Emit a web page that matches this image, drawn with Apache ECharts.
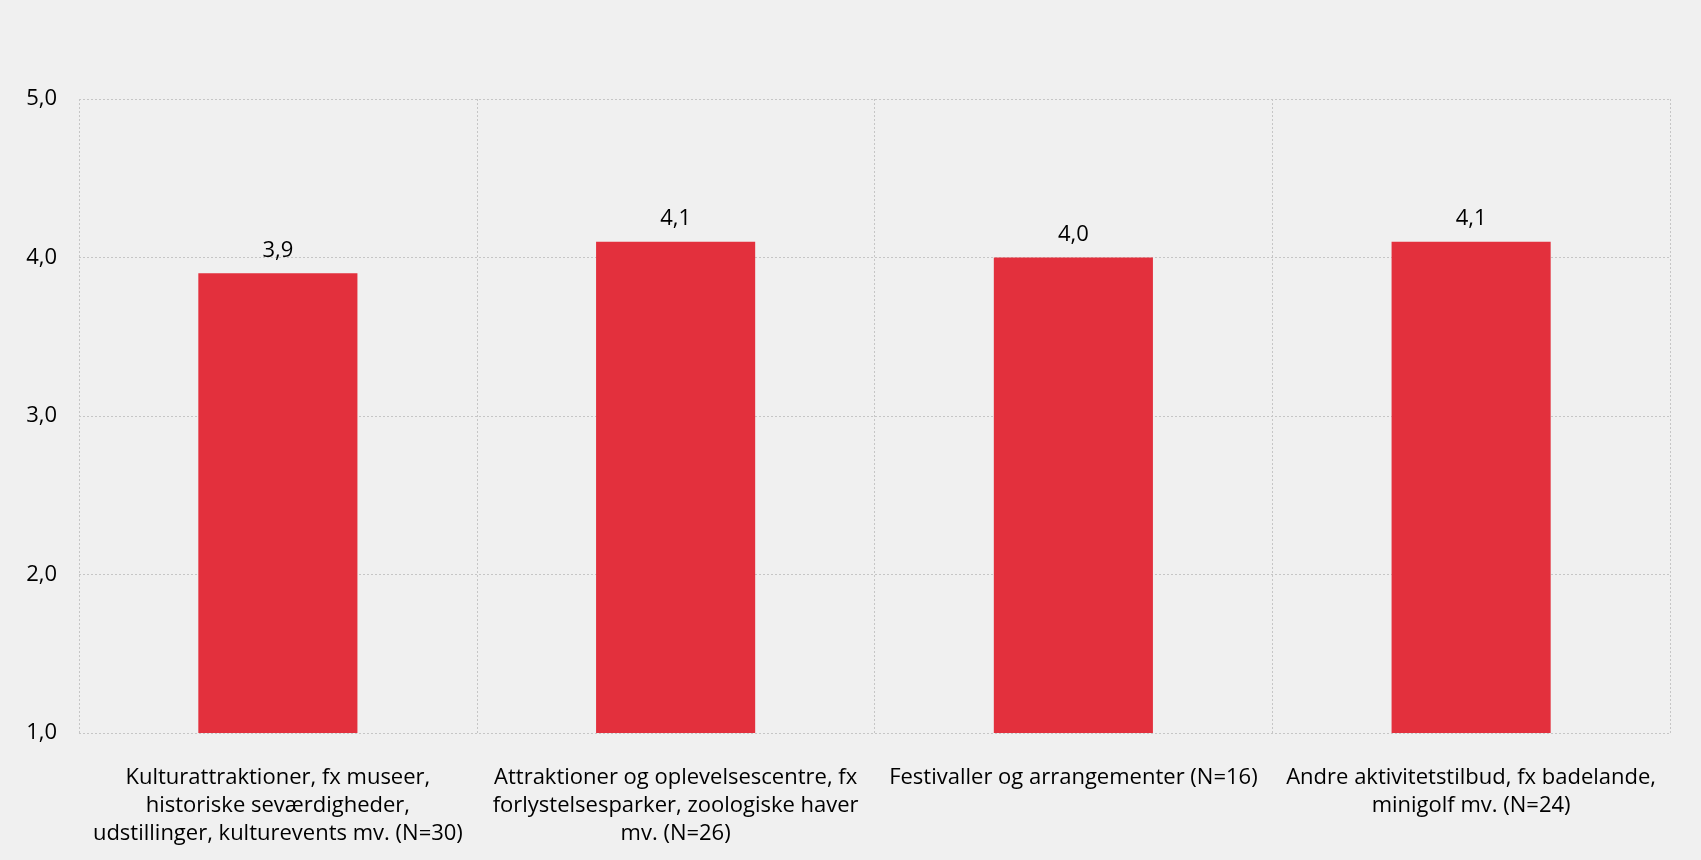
<!DOCTYPE html>
<html lang="da">
<head>
    <meta charset="UTF-8">
    <title>Vurdering af oplevelser</title>
    <script src="https://cdn.jsdelivr.net/npm/echarts@6/dist/echarts.min.js"></script>
    <style>
        html, body { margin: 0; padding: 0; background: #f0f0f0; }
        #chart { width: 1701px; height: 860px; }
    </style>
</head>
<body>
    <div id="chart"></div>
    <script>
        // kategorier og gennemsnit
        var categories = [
            'Kulturattraktioner, fx museer,\nhistoriske seværdigheder,\nudstillinger, kulturevents mv. (N=30)',
            'Attraktioner og oplevelsescentre, fx\nforlystelsesparker, zoologiske haver\nmv. (N=26)',
            'Festivaller og arrangementer (N=16)',
            'Andre aktivitetstilbud, fx badelande,\nminigolf mv. (N=24)'
        ];
        var scores = [3.9, 4.1, 4.0, 4.1];

        var fmt = function (v) { return Number(v).toFixed(1).replace('.', ','); };
        var font = '"Open Sans", "Noto Sans", sans-serif';

        var myChart = echarts.init(document.getElementById('chart'));
        var option = {
            backgroundColor: '#f0f0f0',
            animation: false,
            grid: { left: 79, right: 31, top: 99, bottom: 127 },
            xAxis: {
                type: 'category',
                data: categories,
                axisLine: { show: false },
                axisTick: { show: false },
                axisLabel: {
                    margin: 31,
                    color: '#000',
                    fontSize: 22,
                    lineHeight: 28,
                    fontFamily: font,
                    interval: 0
                },
                splitLine: {
                    show: true,
                    showMinLine: true,
                    showMaxLine: true,
                    lineStyle: { color: '#c6c6c6', type: [2, 2], width: 1 }
                }
            },
            yAxis: {
                type: 'value',
                min: 1,
                max: 5,
                interval: 1,
                axisLine: { show: false },
                axisTick: { show: false },
                axisLabel: {
                    margin: 22,
                    color: '#000',
                    fontSize: 22,
                    fontFamily: font,
                    formatter: fmt
                },
                splitLine: {
                    lineStyle: { color: '#c6c6c6', type: [2, 2], width: 1 }
                }
            },
            series: [
                {
                    type: 'bar',
                    data: scores,
                    barWidth: '40%',
                    itemStyle: { color: '#e3303d' },
                    label: {
                        show: true,
                        position: 'top',
                        distance: 12,
                        color: '#000',
                        fontSize: 22,
                        fontFamily: font,
                        formatter: function (p) { return fmt(p.value); }
                    }
                }
            ]
        };
        myChart.setOption(option);
    </script>
</body>
</html>
